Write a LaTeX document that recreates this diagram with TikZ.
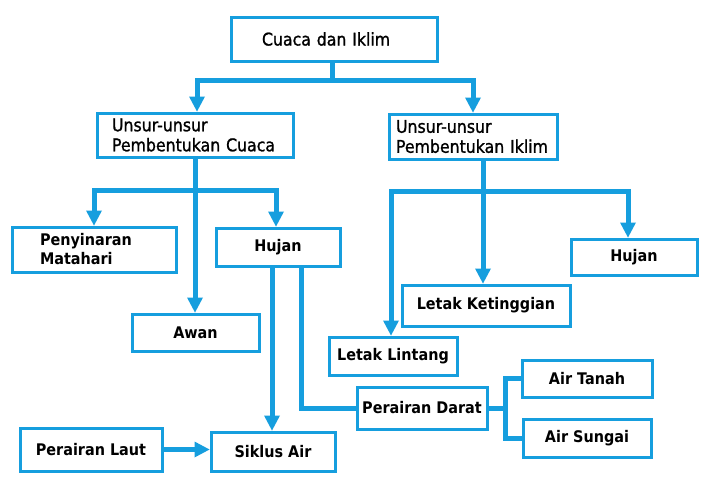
\documentclass[tikz,border=0pt]{standalone}
\usepackage{fontspec}
\setmainfont{DejaVu Sans}[FakeStretch=0.9]
\newfontfamily\headfont{DejaVu Sans}[FakeStretch=0.9,FakeBold=1.2]
\usetikzlibrary{arrows.meta}
\definecolor{lineblue}{RGB}{22,158,222}
\begin{document}
\begin{tikzpicture}[x=1pt,y=-1pt,
  box/.style={draw=lineblue,line width=3pt,inner sep=0pt,align=center,
    font=\fontsize{16}{19}\selectfont\bfseries},
  headbox/.style={box,font=\fontsize{17.5}{20}\selectfont\headfont},
  conn/.style={draw=lineblue,line width=5pt},
  arr/.style={conn,-{Triangle[width=16pt,length=15pt,line width=0pt]}},
]
\useasboundingbox[fill=white] (0,0) rectangle (708,488);

% boxes
\node[headbox,text width=144pt,inner xsep=31pt,align=left,minimum height=44pt] (top) at (334,39) {Cuaca dan Iklim};
\node[headbox,text width=166pt,inner xsep=15pt,align=left,minimum height=44pt] (wL) at (195,135) {Unsur-unsur\\Pembentukan Cuaca};
\node[headbox,text width=154pt,inner xsep=7pt,align=left,minimum height=45pt] (wR) at (473,136.5) {Unsur-unsur\\Pembentukan Iklim};
\node[box,text width=108pt,inner xsep=28pt,align=left,minimum height=45pt] (pen) at (94,249.5) {Penyinaran\\Matahari};
\node[box,minimum width=124pt,minimum height=38pt] (hujL) at (278,247) {Hujan};
\node[box,minimum width=127pt,minimum height=37pt] (awan) at (195.5,332.5) {Awan};
\node[box,minimum width=128pt,minimum height=38pt] (llin) at (393,356) {Letak Lintang};
\node[box,minimum width=168pt,minimum height=41pt] (lket) at (486,305.5) {Letak Ketinggian};
\node[box,minimum width=126pt,minimum height=36pt] (hujR) at (634,257) {Hujan};
\node[box,minimum width=130pt,minimum height=37pt] (atan) at (587,378.5) {Air Tanah};
\node[box,minimum width=128pt,minimum height=38pt] (asun) at (587,438) {Air Sungai};
\node[box,minimum width=130pt,minimum height=42pt] (pdar) at (422,408) {Perairan Darat};
\node[box,minimum width=124pt,minimum height=39pt] (siklus) at (273,451.5) {Siklus Air};
\node[box,minimum width=142pt,minimum height=43pt] (plaut) at (91,449.5) {Perairan Laut};

% top level
\coordinate (jTop) at (332,80);
\draw[conn] (jTop |- top.south) -- (jTop);
\draw[arr] (jTop) -| ([xshift=2pt]wL.north);
\draw[arr] (jTop) -| (wR.north);

% left branch
\coordinate (jL) at (195,190);
\draw[arr] (wL.south) -- (wL.south |- awan.north);
\draw[arr] (jL) -| (pen.north);
\draw[arr] (jL) -| ([xshift=-2pt]hujL.north);

% right branch
\coordinate (jR) at (483,191);
\draw[arr] (jR |- wR.south) -- (jR |- lket.north);
\draw[arr] (jR) -| ([xshift=-2pt]llin.north);
\draw[arr] (jR) -| ([xshift=-6pt]hujR.north);

% Hujan connections
\draw[arr] ([xshift=-6pt]hujL.south) -- ([xshift=-1pt]siklus.north);
\draw[conn] ([xshift=23pt]hujL.south) |- (pdar.west);
\draw[arr] (plaut.east) -- (plaut.east -| siklus.west);

% Perairan Darat branch
\coordinate (jD) at ([xshift=17pt]pdar.east);
\draw[conn] (pdar.east) -- (jD);
\draw[conn] (jD) |- (atan.west);
\draw[conn] (jD) |- (asun.west);
\end{tikzpicture}
\end{document}
